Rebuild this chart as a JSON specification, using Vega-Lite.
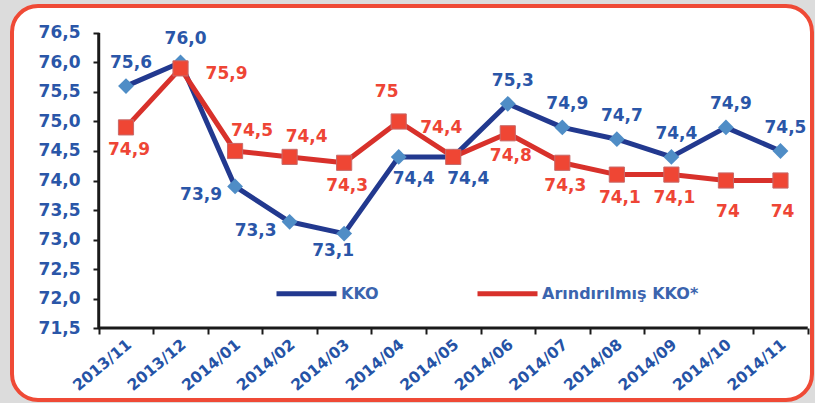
{
  "$schema": "https://vega.github.io/schema/vega-lite/v6.json",
  "width": 800,
  "height": 394,
  "padding": {"left": 12, "top": 6, "right": 3, "bottom": 3},
  "autosize": {"type": "none"},
  "background": "#dcdcdc",
  "config": {
    "locale": {"number": {"decimal": ",", "thousands": ".", "grouping": [3], "currency": ["", " TL"]}},
    "view": {"fill": "white", "stroke": "#ef4a36", "strokeWidth": 4, "cornerRadius": 26},
    "font": "DejaVu Sans",
    "axis": {"labelOverlap": false, "labelBound": false, "labelFlush": false, "grid": false, "domain": false, "title": null},
    "text": {"font": "DejaVu Sans", "fontWeight": "bold", "fontSize": 17, "align": "center", "baseline": "middle"},
    "legend": {
      "orient": "none", "legendX": 262, "legendY": 255, "direction": "horizontal",
      "symbolType": "stroke", "symbolSize": 3600, "symbolStrokeWidth": 5,
      "labelFont": "DejaVu Sans", "labelFontWeight": "bold", "labelFontSize": 16,
      "labelColor": "#3b64ae", "labelOffset": 2, "columnPadding": 88, "padding": 0
    }
  },
  "data": {"values": [
    {"i": 0, "month": "2013/11", "series": "KKO", "value": 75.6},
    {"i": 1, "month": "2013/12", "series": "KKO", "value": 76.0},
    {"i": 2, "month": "2014/01", "series": "KKO", "value": 73.9},
    {"i": 3, "month": "2014/02", "series": "KKO", "value": 73.3},
    {"i": 4, "month": "2014/03", "series": "KKO", "value": 73.1},
    {"i": 5, "month": "2014/04", "series": "KKO", "value": 74.4},
    {"i": 6, "month": "2014/05", "series": "KKO", "value": 74.4},
    {"i": 7, "month": "2014/06", "series": "KKO", "value": 75.3},
    {"i": 8, "month": "2014/07", "series": "KKO", "value": 74.9},
    {"i": 9, "month": "2014/08", "series": "KKO", "value": 74.7},
    {"i": 10, "month": "2014/09", "series": "KKO", "value": 74.4},
    {"i": 11, "month": "2014/10", "series": "KKO", "value": 74.9},
    {"i": 12, "month": "2014/11", "series": "KKO", "value": 74.5},
    {"i": 0, "month": "2013/11", "series": "Arındırılmış KKO*", "value": 74.9},
    {"i": 1, "month": "2013/12", "series": "Arındırılmış KKO*", "value": 75.9},
    {"i": 2, "month": "2014/01", "series": "Arındırılmış KKO*", "value": 74.5},
    {"i": 3, "month": "2014/02", "series": "Arındırılmış KKO*", "value": 74.4},
    {"i": 4, "month": "2014/03", "series": "Arındırılmış KKO*", "value": 74.3},
    {"i": 5, "month": "2014/04", "series": "Arındırılmış KKO*", "value": 75.0},
    {"i": 6, "month": "2014/05", "series": "Arındırılmış KKO*", "value": 74.4},
    {"i": 7, "month": "2014/06", "series": "Arındırılmış KKO*", "value": 74.8},
    {"i": 8, "month": "2014/07", "series": "Arındırılmış KKO*", "value": 74.3},
    {"i": 9, "month": "2014/08", "series": "Arındırılmış KKO*", "value": 74.1},
    {"i": 10, "month": "2014/09", "series": "Arındırılmış KKO*", "value": 74.1},
    {"i": 11, "month": "2014/10", "series": "Arındırılmış KKO*", "value": 74.0},
    {"i": 12, "month": "2014/11", "series": "Arındırılmış KKO*", "value": 74.0}
  ]},
  "layer": [
    {
      "data": {"values": [{"a": 1}]},
      "mark": {"type": "rule", "color": "#1a1a1a", "strokeWidth": 3},
      "encoding": {
        "x": {"datum": -0.5, "type": "quantitative",
          "scale": {"domain": [-2.09, 12.578], "nice": false, "zero": false},
          "axis": {
            "orient": "bottom", "offset": -72, "title": null, "grid": false, "domain": false,
            "values": [-0.5, 0.5, 1.5, 2.5, 3.5, 4.5, 5.5, 6.5, 7.5, 8.5, 9.5, 10.5, 11.5, 12.5],
            "labelExpr": "['2013/11','2013/12','2014/01','2014/02','2014/03','2014/04','2014/05','2014/06','2014/07','2014/08','2014/09','2014/10','2014/11',''][datum.value + 0.5]",
            "tickSize": 6, "tickWidth": 2, "tickColor": "#1a1a1a",
            "labelAngle": -40, "labelAlign": "right", "labelBaseline": "middle",
            "labelOffset": 30, "labelPadding": 8, "labelFont": "DejaVu Sans", "labelFontWeight": "bold",
            "labelFontSize": 15.5, "labelColor": "#2553a6", "labelOverlap": false, "labelBound": false, "labelFlush": false
          }},
        "y": {"datum": 71.5, "type": "quantitative",
          "scale": {"domain": [70.2797, 76.9576], "nice": false, "zero": false},
          "axis": {
            "orient": "left", "offset": -87, "title": null, "grid": false, "domain": false,
            "values": [71.5, 72, 72.5, 73, 73.5, 74, 74.5, 75, 75.5, 76, 76.5],
            "format": ".1f",
            "tickSize": 6, "tickWidth": 2, "tickColor": "#1a1a1a",
            "labelPadding": 13, "labelFont": "DejaVu Sans", "labelFontWeight": "bold",
            "labelFontSize": 17, "labelColor": "#2a56a8", "labelOverlap": false, "labelBound": false, "labelFlush": false
          }},
        "y2": {"datum": 76.5}
      }
    },
    {
      "data": {"values": [{"a": 1}]},
      "mark": {"type": "rule", "color": "#1a1a1a", "strokeWidth": 3},
      "encoding": {
        "x": {"datum": -0.5, "type": "quantitative",
          "scale": {"domain": [-2.09, 12.578], "nice": false, "zero": false},
          "axis": {
            "orient": "bottom", "offset": -72, "title": null, "grid": false, "domain": false,
            "values": [-0.5, 0.5, 1.5, 2.5, 3.5, 4.5, 5.5, 6.5, 7.5, 8.5, 9.5, 10.5, 11.5, 12.5],
            "labelExpr": "['2013/11','2013/12','2014/01','2014/02','2014/03','2014/04','2014/05','2014/06','2014/07','2014/08','2014/09','2014/10','2014/11',''][datum.value + 0.5]",
            "tickSize": 6, "tickWidth": 2, "tickColor": "#1a1a1a",
            "labelAngle": -40, "labelAlign": "right", "labelBaseline": "middle",
            "labelOffset": 30, "labelPadding": 8, "labelFont": "DejaVu Sans", "labelFontWeight": "bold",
            "labelFontSize": 15.5, "labelColor": "#2553a6", "labelOverlap": false, "labelBound": false, "labelFlush": false
          }},
        "y": {"datum": 71.5, "type": "quantitative",
          "scale": {"domain": [70.2797, 76.9576], "nice": false, "zero": false},
          "axis": {
            "orient": "left", "offset": -87, "title": null, "grid": false, "domain": false,
            "values": [71.5, 72, 72.5, 73, 73.5, 74, 74.5, 75, 75.5, 76, 76.5],
            "format": ".1f",
            "tickSize": 6, "tickWidth": 2, "tickColor": "#1a1a1a",
            "labelPadding": 13, "labelFont": "DejaVu Sans", "labelFontWeight": "bold",
            "labelFontSize": 17, "labelColor": "#2a56a8", "labelOverlap": false, "labelBound": false, "labelFlush": false
          }},
        "x2": {"datum": 12.5}
      }
    },
    {
      "encoding": {
        "x": {
          "field": "i", "type": "quantitative",
          "scale": {"domain": [-2.09, 12.578], "nice": false, "zero": false},
          "axis": {
            "orient": "bottom", "offset": -72, "title": null, "grid": false, "domain": false,
            "values": [-0.5, 0.5, 1.5, 2.5, 3.5, 4.5, 5.5, 6.5, 7.5, 8.5, 9.5, 10.5, 11.5, 12.5],
            "labelExpr": "['2013/11','2013/12','2014/01','2014/02','2014/03','2014/04','2014/05','2014/06','2014/07','2014/08','2014/09','2014/10','2014/11',''][datum.value + 0.5]",
            "tickSize": 6, "tickWidth": 2, "tickColor": "#1a1a1a",
            "labelAngle": -40, "labelAlign": "right", "labelBaseline": "middle",
            "labelOffset": 30, "labelPadding": 8, "labelFont": "DejaVu Sans", "labelFontWeight": "bold",
            "labelFontSize": 15.5, "labelColor": "#2553a6", "labelOverlap": false, "labelBound": false, "labelFlush": false
          }
        },
        "y": {
          "field": "value", "type": "quantitative",
          "scale": {"domain": [70.2797, 76.9576], "nice": false, "zero": false},
          "axis": {
            "orient": "left", "offset": -87, "title": null, "grid": false, "domain": false,
            "values": [71.5, 72, 72.5, 73, 73.5, 74, 74.5, 75, 75.5, 76, 76.5],
            "format": ".1f",
            "tickSize": 6, "tickWidth": 2, "tickColor": "#1a1a1a",
            "labelPadding": 13, "labelFont": "DejaVu Sans", "labelFontWeight": "bold",
            "labelFontSize": 17, "labelColor": "#2a56a8", "labelOverlap": false, "labelBound": false, "labelFlush": false
          }
        }
      },
      "layer": [
        {
          "transform": [{"filter": "datum.series == 'KKO'"}],
          "mark": {"type": "line", "strokeWidth": 5, "strokeJoin": "round", "strokeCap": "round"},
          "encoding": {
            "stroke": {"field": "series", "type": "nominal",
              "scale": {"domain": ["KKO", "Arındırılmış KKO*"], "range": ["#22398f", "#d8312b"]},
              "legend": {"title": null}}
          }
        },
        {
          "transform": [{"filter": "datum.series == 'KKO'"}],
          "mark": {"type": "point", "shape": "diamond", "filled": true, "fill": "#4f8dc6", "opacity": 1, "size": 250}
        },
        {
          "transform": [{"filter": "datum.series != 'KKO'"}],
          "mark": {"type": "line", "strokeWidth": 5, "strokeJoin": "round", "strokeCap": "round"},
          "encoding": {
            "stroke": {"field": "series", "type": "nominal",
              "scale": {"domain": ["KKO", "Arındırılmış KKO*"], "range": ["#22398f", "#d8312b"]},
              "legend": {"title": null}}
          }
        },
        {
          "transform": [{"filter": "datum.series != 'KKO'"}],
          "mark": {"type": "point", "shape": "square", "filled": true, "fill": "#ef4634", "stroke": "#c76a6a", "strokeWidth": 1, "opacity": 1, "size": 230}
        },
        {
          "transform": [{"filter": "datum.series == 'KKO' && (datum.i <= 1 || datum.i >= 7)"}],
          "mark": {"type": "text", "color": "#2a56a8", "dx": 5, "dy": -23},
          "encoding": {"text": {"field": "value", "type": "quantitative", "format": ".1f"}}
        },
        {
          "transform": [{"filter": "datum.series == 'KKO' && (datum.i == 2 || datum.i == 3)"}],
          "mark": {"type": "text", "color": "#2a56a8", "dx": -34, "dy": 9},
          "encoding": {"text": {"field": "value", "type": "quantitative", "format": ".1f"}}
        },
        {
          "transform": [{"filter": "datum.series == 'KKO' && datum.i == 4"}],
          "mark": {"type": "text", "color": "#2a56a8", "dx": -11, "dy": 17},
          "encoding": {"text": {"field": "value", "type": "quantitative", "format": ".1f"}}
        },
        {
          "transform": [{"filter": "datum.series == 'KKO' && (datum.i == 5 || datum.i == 6)"}],
          "mark": {"type": "text", "color": "#2a56a8", "dx": 15, "dy": 22},
          "encoding": {"text": {"field": "value", "type": "quantitative", "format": ".1f"}}
        },
        {
          "transform": [{"filter": "datum.series != 'KKO' && (datum.i == 0 || datum.i == 4 || (datum.i >= 7 && datum.i <= 10))"}],
          "mark": {"type": "text", "color": "#ee4535", "dx": 3, "dy": 23},
          "encoding": {"text": {"field": "value", "type": "quantitative", "format": ".1~f"}}
        },
        {
          "transform": [{"filter": "datum.series != 'KKO' && datum.i >= 11"}],
          "mark": {"type": "text", "color": "#ee4535", "dx": 2, "dy": 31},
          "encoding": {"text": {"field": "value", "type": "quantitative", "format": ".1~f"}}
        },
        {
          "transform": [{"filter": "datum.series != 'KKO' && (datum.i == 2 || datum.i == 3)"}],
          "mark": {"type": "text", "color": "#ee4535", "dx": 17, "dy": -20},
          "encoding": {"text": {"field": "value", "type": "quantitative", "format": ".1~f"}}
        },
        {
          "transform": [{"filter": "datum.series != 'KKO' && (datum.i == 5 || datum.i == 6)"}],
          "mark": {"type": "text", "color": "#ee4535", "dx": -12, "dy": -29},
          "encoding": {"text": {"field": "value", "type": "quantitative", "format": ".1~f"}}
        },
        {
          "transform": [{"filter": "datum.series != 'KKO' && datum.i == 1"}],
          "mark": {"type": "text", "color": "#ee4535", "dx": 46, "dy": 6},
          "encoding": {"text": {"field": "value", "type": "quantitative", "format": ".1~f"}}
        }
      ]
    }
  ]
}
